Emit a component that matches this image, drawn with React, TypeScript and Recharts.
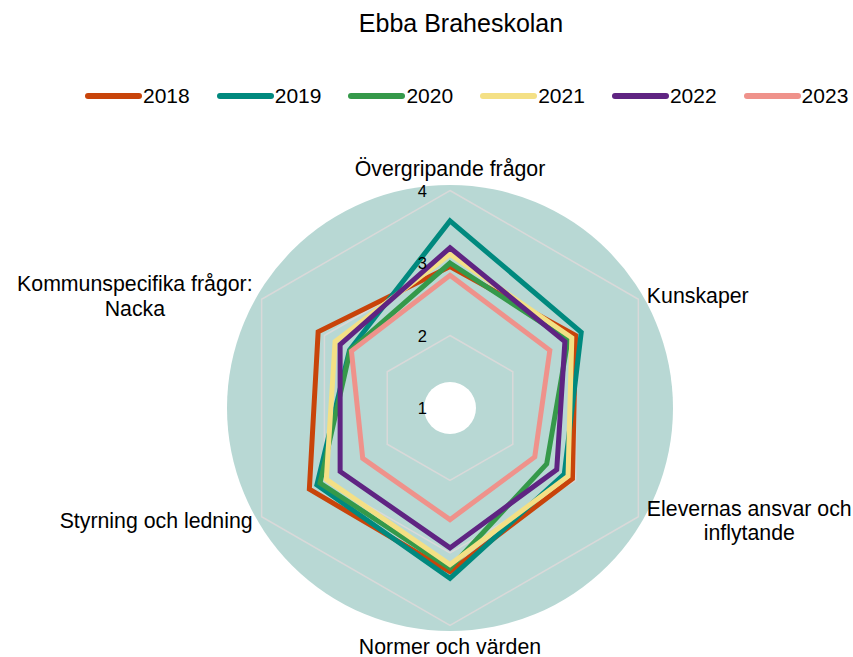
import { RadarChart, Radar, PolarGrid, PolarAngleAxis, PolarRadiusAxis, Legend } from "recharts";

const FONT = "'Liberation Sans', Arial, sans-serif";
const CX = 450;
const CY = 408;
const R = 217.5;
const LABEL_SIZE = 21.3;

const categories = [
  "Övergripande frågor",
  "Kunskaper",
  "Elevernas ansvar och\ninflytande",
  "Normer och värden",
  "Styrning och ledning",
  "Kommunspecifika frågor:\nNacka",
];

const years = ["2018", "2019", "2020", "2021", "2022", "2023"];
const colors = ["#C8440A", "#00897E", "#35994A", "#F4E085", "#5F2482", "#EF928B"];

const v2018 = [2.95, 3.0, 2.95, 3.26, 3.24, 3.1];
const v2019 = [3.58, 3.09, 2.82, 3.35, 3.12, 2.6];
const v2020 = [3.0, 2.88, 2.54, 3.21, 3.07, 2.59];
const v2021 = [3.12, 2.94, 2.88, 3.16, 2.97, 2.83];
const v2022 = [3.21, 2.83, 2.7, 2.93, 2.75, 2.75];
const v2023 = [2.83, 2.59, 2.35, 2.54, 2.39, 2.57];

const radiusTicks = [1, 2, 3, 4];

const series = [v2018, v2019, v2020, v2021, v2022, v2023];
const data = categories.map((c, i) => {
  const row: Record<string, string | number> = { subject: c };
  years.forEach((y, k) => {
    row["y" + y] = series[k][i];
  });
  return row;
});

let ctx: CanvasRenderingContext2D | null = null;
function textWidth(s: string) {
  if (!ctx) {
    ctx = document.createElement("canvas").getContext("2d");
    if (ctx) ctx.font = `${LABEL_SIZE}px ${FONT}`;
  }
  return ctx ? ctx.measureText(s).width : s.length * 10.5;
}

function AngleTick(props: any) {
  const { payload } = props;
  const rad = (payload.coordinate * Math.PI) / 180;
  const cos = Math.cos(rad);
  const sin = Math.sin(rad);
  const vx = CX + R * cos;
  const vy = CY - R * sin;
  const lines = String(payload.value).split("\n");
  const lh = 24.5;
  const maxW = Math.max(...lines.map(textWidth));
  let x = vx;
  let firstBase: number;
  if (Math.abs(cos) < 0.1) {
    firstBase = sin > 0 ? vy - 15 : vy + 28;
  } else {
    x = cos > 0 ? vx + 8.5 + maxW / 2 : vx - 9 - maxW / 2;
    const center = vy + (sin > 0 ? -3 : 4);
    firstBase = center + 7 - ((lines.length - 1) * lh) / 2;
  }
  return (
    <text x={x} y={firstBase} textAnchor="middle" fontSize={LABEL_SIZE} fontFamily={FONT} fill="#000">
      {lines.map((l, i) => (
        <tspan key={i} x={x} y={firstBase + i * lh}>
          {l}
        </tspan>
      ))}
    </text>
  );
}

function RadiusTick(props: any) {
  const { x, y, payload } = props;
  return (
    <text x={x - 23} y={y + 6} textAnchor="end" fontSize={16.5} fontFamily={FONT} fill="#000">
      {payload.value}
    </text>
  );
}

function LegendContent() {
  return (
    <div style={{ display: "flex", gap: 27, fontFamily: FONT, fontSize: 21, lineHeight: "24px" }}>
      {years.map((y, i) => (
        <div key={y} style={{ display: "flex", alignItems: "center" }}>
          <svg width={58} height={10} style={{ display: "block" }}>
            <line x1={3} y1={5} x2={54} y2={5} stroke={colors[i]} strokeWidth={6} strokeLinecap="round" />
          </svg>
          <span style={{ color: "#000" }}>{y}</span>
        </div>
      ))}
    </div>
  );
}

export default function App() {
  return (
    <div style={{ position: "absolute", left: 0, top: 0, width: 853, height: 657, background: "#fff" }}>
      <svg width={853} height={657} style={{ position: "absolute", left: 0, top: 0 }}>
        <circle cx={CX} cy={CY} r={223} fill="#B8D8D4" />
        <circle cx={CX} cy={CY} r={26} fill="#fff" />
      </svg>
      <div
        style={{
          position: "absolute",
          left: 0,
          top: 8,
          width: 853,
          textAlign: "center",
          paddingLeft: 69,
          boxSizing: "border-box",
          fontFamily: FONT,
          fontSize: 25,
          lineHeight: "30px",
          color: "#000",
        }}
      >
        Ebba Braheskolan
      </div>
      <div style={{ position: "absolute", left: 0, top: 0 }}>
        <RadarChart
          width={853}
          height={657}
          cx={CX}
          cy={CY}
          outerRadius={R}
          data={data}
          margin={{ top: 0, right: 0, bottom: 0, left: 0 }}
        >
          <PolarGrid gridType="polygon" radialLines={false} stroke="#D9D9D9" strokeWidth={1.5} />
          <PolarAngleAxis dataKey="subject" tick={AngleTick} tickLine={false} axisLine={false} />
          <PolarRadiusAxis
            angle={90}
            domain={[1, 4]}
            ticks={radiusTicks}
            tickCount={4}
            axisLine={false}
            tickLine={false}
            tick={RadiusTick}
          />
          {years.map((y, i) => (
            <Radar
              key={y}
              name={y}
              dataKey={"y" + y}
              stroke={colors[i]}
              strokeWidth={5}
              strokeLinejoin="miter"
              fill="none"
              fillOpacity={0}
              dot={false}
              isAnimationActive={false}
            />
          ))}
          <Legend
            verticalAlign="top"
            content={LegendContent}
            wrapperStyle={{ top: 84, left: 85, width: "auto" }}
          />
        </RadarChart>
      </div>
    </div>
  );
}
